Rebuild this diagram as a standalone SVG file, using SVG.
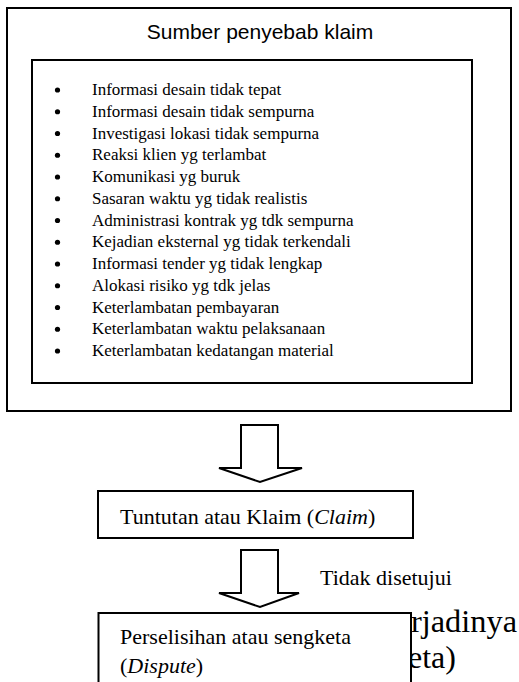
<svg xmlns="http://www.w3.org/2000/svg" width="519" height="682" viewBox="0 0 519 682">
<style>
.box{fill:#fff;stroke:#000;stroke-width:2}
.arrow{fill:#fff;stroke:#000;stroke-width:2;stroke-linejoin:miter}
.title{font-family:"Liberation Sans",Arial,sans-serif;font-size:21px;fill:#000}
.item{font-family:"Liberation Serif","Times New Roman",serif;font-size:17px;fill:#000}
.lbl{font-family:"Liberation Serif","Times New Roman",serif;font-size:22px;fill:#000}
.cap{font-family:"Liberation Serif","Times New Roman",serif;font-size:32px;fill:#000}
.dot{fill:#000}
</style>
<rect width="519" height="682" fill="#fff"/>
<g id="caption">
<text class="cap" x="411" y="632" textLength="106" lengthAdjust="spacingAndGlyphs">rjadinya</text>
<text class="cap" x="408" y="668">eta)</text>
</g>
<g id="sumber">
<rect class="box" x="7" y="8" width="504" height="403"/>
<text class="title" x="260" y="39" text-anchor="middle">Sumber penyebab klaim</text>
</g>
<g id="daftar">
<rect class="box" x="32" y="60" width="440" height="323"/>
<g class="dot">
<circle cx="57.5" cy="90" r="2.6"/>
<circle cx="57.5" cy="111.75" r="2.6"/>
<circle cx="57.5" cy="133.5" r="2.6"/>
<circle cx="57.5" cy="155.25" r="2.6"/>
<circle cx="57.5" cy="177" r="2.6"/>
<circle cx="57.5" cy="198.75" r="2.6"/>
<circle cx="57.5" cy="220.5" r="2.6"/>
<circle cx="57.5" cy="242.25" r="2.6"/>
<circle cx="57.5" cy="264" r="2.6"/>
<circle cx="57.5" cy="285.75" r="2.6"/>
<circle cx="57.5" cy="307.5" r="2.6"/>
<circle cx="57.5" cy="329.25" r="2.6"/>
<circle cx="57.5" cy="351" r="2.6"/>
</g>
<text class="item" x="92" y="95">Informasi desain tidak tepat</text>
<text class="item" x="92" y="116.75">Informasi desain tidak sempurna</text>
<text class="item" x="92" y="138.5">Investigasi lokasi tidak sempurna</text>
<text class="item" x="92" y="160.25">Reaksi klien yg terlambat</text>
<text class="item" x="92" y="182">Komunikasi yg buruk</text>
<text class="item" x="92" y="203.75">Sasaran waktu yg tidak realistis</text>
<text class="item" x="92" y="225.5">Administrasi kontrak yg tdk sempurna</text>
<text class="item" x="92" y="247.25">Kejadian eksternal yg tidak terkendali</text>
<text class="item" x="92" y="269">Informasi tender yg tidak lengkap</text>
<text class="item" x="92" y="290.75">Alokasi risiko yg tdk jelas</text>
<text class="item" x="92" y="312.5">Keterlambatan pembayaran</text>
<text class="item" x="92" y="334.25">Keterlambatan waktu pelaksanaan</text>
<text class="item" x="92" y="356">Keterlambatan kedatangan material</text>
</g>
<g id="connectors">
<polygon class="arrow" points="241,425 278,425 278,468 302,468 260,482 219,468 241,468"/>
<polygon class="arrow" points="241,550 278,550 278,593 299,593 260,607 219,593 241,593"/>
<text class="lbl" x="320" y="585">Tidak disetujui</text>
</g>
<g id="claim">
<rect class="box" x="98" y="491" width="315" height="47"/>
<text class="lbl" x="120" y="524">Tuntutan atau Klaim (<tspan font-style="italic">Claim</tspan>)</text>
</g>
<g id="dispute">
<rect class="box" x="98.5" y="613" width="312.5" height="80"/>
<text class="lbl" x="120" y="644">Perselisihan atau sengketa</text>
<text class="lbl" x="120" y="673">(<tspan font-style="italic">Dispute</tspan>)</text>
</g>
</svg>
